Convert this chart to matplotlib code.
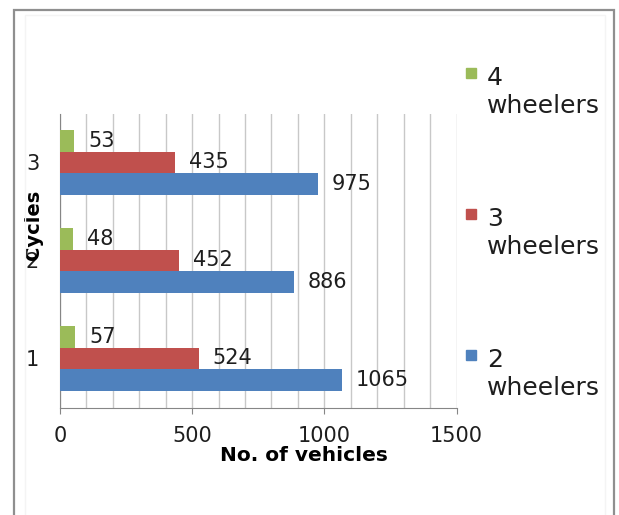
import matplotlib.pyplot as plt
from matplotlib.patches import Rectangle
from matplotlib.ticker import MultipleLocator

categories = ['1', '2', '3']
series_names = ['4\nwheelers', '3\nwheelers', '2\nwheelers']
four_wheelers = [57, 48, 53]
three_wheelers = [524, 452, 435]
two_wheelers = [1065, 886, 975]

colors = ['#9BBB59', '#C0504D', '#4F81BD']
axis_gray = '#868686'

plt.rcParams['font.family'] = 'DejaVu Sans'

W, H = 619, 515
fig = plt.figure(figsize=(W / 100, H / 100), dpi=100)
ax = fig.add_axes([60 / W, 1 - 407.5 / H, 396.5 / W, 294 / H])

y = list(range(1, len(categories) + 1))
bh = 0.22
series = [four_wheelers, three_wheelers, two_wheelers]
offsets = [bh, 0, -bh]
for vals, off, c in zip(series, offsets, colors):
    bars = ax.barh([p + off for p in y], vals, height=bh, color=c, zorder=3)
    ax.bar_label(bars, labels=[str(v) for v in vals], padding=10,
                 fontsize=15, color='#1e1e1e')

ax.set_xlim(0, 1500)
ax.set_ylim(0.5, 3.5)
ax.set_yticks(y)
ax.set_yticklabels(categories)
ax.xaxis.set_major_locator(MultipleLocator(500))
ax.xaxis.set_minor_locator(MultipleLocator(100))
ax.grid(axis='x', which='both', color='#c8c8c8', linewidth=1)
ax.set_axisbelow(True)

ax.tick_params(axis='x', which='major', length=4, color=axis_gray,
               labelsize=15, pad=9, labelcolor='#1e1e1e')
ax.tick_params(axis='x', which='minor', length=0)
ax.tick_params(axis='y', length=0, labelsize=15, pad=15, labelcolor='#1e1e1e')

for s in ['top', 'right']:
    ax.spines[s].set_visible(False)
for s in ['left', 'bottom']:
    ax.spines[s].set_color(axis_gray)

ax.set_xlabel('No. of vehicles', fontsize=14.5, fontweight='bold', va='center')
ax.xaxis.set_label_coords(0.615, -0.162)
ax.set_ylabel('Cycles', fontsize=14, fontweight='bold', va='center')
ax.yaxis.set_label_coords(-0.066, 0.62)

# legend drawn by hand: swatch beside the number, "wheelers" on the line below
for i, (name, c) in enumerate(zip(series_names, colors)):
    top = 85 + i * 141
    num, word = name.split('\n')
    fig.patches.append(Rectangle((466 / W, 1 - (top - 7) / H), 10 / W, 10 / H,
                                 transform=fig.transFigure, color=c))
    fig.text(487 / W, 1 - top / H, num, fontsize=18, va='baseline', color='#1e1e1e')
    fig.text(487 / W, 1 - (top + 28) / H, word, fontsize=18, va='baseline',
             color='#1e1e1e')

# chart border
fig.patches.append(Rectangle((14 / W, -0.05), 600 / W, 1.05 - 10 / H,
                             transform=fig.transFigure, fill=False,
                             edgecolor='#8f8f8f', linewidth=1.6))
fig.patches.append(Rectangle((25 / W, -0.05), 580 / W, 1.05 - 15 / H,
                             transform=fig.transFigure, fill=False,
                             edgecolor='#f4f4f4', linewidth=1))

fig.savefig('out.png', dpi=100)
